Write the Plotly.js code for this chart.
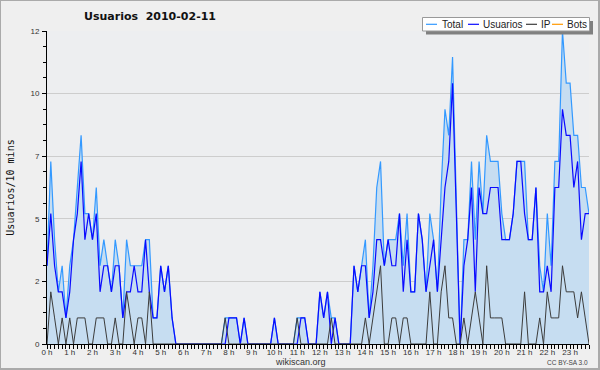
<!DOCTYPE html>
<html>
<head>
<meta charset="utf-8">
<script src="https://cdn.plot.ly/plotly-3.0.1.min.js"></script>
<style>
  html, body { margin: 0; padding: 0; background: #efefef; }
  #wrap { position: relative; width: 600px; height: 370px; }
  #chart { position: absolute; left: 0; top: 0; width: 600px; height: 370px; }
  #frame { position: absolute; left: 0; top: 0; width: 600px; height: 370px; box-sizing: border-box;
           border-left: 1px solid #aaa; border-top: 1px solid #aaa; border-right: 2px solid #aaa; border-bottom: 2px solid #aaa; pointer-events: none; }
</style>
</head>
<body>
<div id="wrap"><div id="chart"></div><div id="frame"></div></div>
<script>
// ---- data: one value per 10-minute slot, 00:00 .. 23:50 ----
const usuarios = [
  3,5,3,2,2,1,2,4,5,7,4,5,4,5,2,3,3,2,3,3,1,2,2,3,
  2,2,4,2,1,1,3,2,3,1,0,0,0,0,0,0,0,0,0,0,0,0,0,0,
  1,1,1,0,1,0,0,0,0,0,0,0,1,0,0,0,0,0,0,1,1,0,0,0,
  2,1,2,0,1,0,0,0,0,3,2,3,3,1,2,4,4,3,4,3,3,5,2,4,
  2,2,5,4,2,3,4,2,4,6,7,10,5,0,3,4,6,2,6,5,5,6,6,6,
  4,4,4,5,7,7,5,4,4,6,2,2,3,2,6,6,9,8,8,6,7,4,5,5
];
const ip = [
  0,2,1,0,1,0,1,0,1,1,1,0,0,1,1,1,0,0,1,0,0,2,1,0,
  1,1,0,2,0,0,0,0,0,0,0,0,0,0,0,0,0,0,0,0,0,0,0,1,
  0,0,0,0,0,0,0,0,0,0,0,0,0,0,0,0,0,0,1,0,0,0,0,0,
  0,0,0,1,0,0,0,0,0,0,0,0,1,0,1,2,3,0,0,1,1,0,1,1,
  0,0,0,0,0,2,0,0,2,3,1,1,0,0,1,0,1,2,1,0,3,1,1,1,
  1,0,0,0,0,0,2,0,0,0,1,0,2,1,1,1,3,2,2,2,1,2,1,0
];
const total = [
  3,7,4,2,3,1,3,4,6,8,5,5,4,6,3,4,3,2,4,3,1,4,3,3,
  3,3,4,4,1,1,3,2,3,1,0,0,0,0,0,0,0,0,0,0,0,0,0,1,
  1,1,1,0,1,0,0,0,0,0,0,0,1,0,0,0,0,0,1,1,1,0,0,0,
  2,1,2,1,1,0,0,0,0,3,2,3,4,1,3,6,7,3,4,4,4,5,3,5,
  2,2,5,4,2,5,4,2,6,9,8,11,5,0,4,4,7,4,7,5,8,7,7,7,
  5,4,4,5,7,7,7,4,4,6,3,2,5,3,7,7,12,10,10,8,8,6,6,5
];
const bots = [
  0,0,0,0,0,0,0,0,0,0,0,0,0,0,0,0,0,0,0,0,0,0,0,0,
  0,0,0,0,0,0,0,0,0,0,0,0,0,0,0,0,0,0,0,0,0,0,0,0,
  0,0,0,0,0,0,0,0,0,0,0,0,0,0,0,0,0,0,0,0,0,0,0,0,
  0,0,0,0,0,0,0,0,0,0,0,0,0,0,0,0,0,0,0,0,0,0,0,0,
  0,0,0,0,0,0,0,0,0,0,0,0,0,0,0,0,0,0,0,0,0,0,0,0,
  0,0,0,0,0,0,0,0,0,0,0,0,0,0,0,0,0,0,0,0,0,0,0,0
];
const hourLabels = ['0 h','1 h','2 h','3 h','4 h','5 h','6 h','7 h','8 h','9 h','10 h','11 h',
                    '12 h','13 h','14 h','15 h','16 h','17 h','18 h','19 h','20 h','21 h','22 h','23 h'];
const yTickVals = [0, 2.4, 4.8, 7.2, 9.6, 12];
const yTickText = ['0', '2', '5', '7', '10', '12'];
const seriesNames = ['Total', 'Usuarios', 'IP', 'Bots'];
const seriesColors = ['#3399ff', '#0a0aff', '#3c3c3c', '#ff9900'];

// ---- layout geometry ----
const W = 600, H = 370;
const M = {l: 47, r: 11, t: 31, b: 26};
const PW = W - M.l - M.r, PH = H - M.t - M.b;
const px = v => (v - M.l) / PW;          // pixel x -> paper
const py = v => (H - M.b - v) / PH;      // pixel y -> paper

const slots = usuarios.map((_, i) => i);
const hourTicks = hourLabels.map((_, h) => h * 6);

const traces = [
  {x: slots, y: bots, name: seriesNames[3], type: 'scatter', mode: 'lines',
   line: {color: seriesColors[3], width: 1}},
  {x: slots, y: total, name: seriesNames[0], type: 'scatter', mode: 'lines', fill: 'tozeroy',
   fillcolor: '#c6ddf1', line: {color: seriesColors[0], width: 1.2}},
  {x: slots, y: usuarios, name: seriesNames[1], type: 'scatter', mode: 'lines',
   line: {color: seriesColors[1], width: 1.2}},
  {x: slots, y: ip, name: seriesNames[2], type: 'scatter', mode: 'lines',
   line: {color: seriesColors[2], width: 1}}
];

// custom compact legend (box + shadow + samples + labels)
const legY = 24.3;
const legItems = [
  {name: seriesNames[0], color: seriesColors[0], l0: 426, l1: 437, tx: 441},
  {name: seriesNames[1], color: seriesColors[1], l0: 468, l1: 479, tx: 481.5},
  {name: seriesNames[2], color: seriesColors[2], l0: 526, l1: 537, tx: 539.5},
  {name: seriesNames[3], color: seriesColors[3], l0: 552, l1: 563, tx: 565.5}
];
const shapes = [
  {type: 'rect', xref: 'paper', yref: 'paper', x0: px(426), x1: px(593), y0: py(21), y1: py(34.5),
   fillcolor: '#808080', line: {width: 0}, layer: 'above'},
  {type: 'rect', xref: 'paper', yref: 'paper', x0: px(422.5), x1: px(589.5), y0: py(17.5), y1: py(31),
   fillcolor: '#ffffff', line: {color: '#999999', width: 1}, layer: 'above'}
];
const annotations = [];
legItems.forEach(it => {
  shapes.push({type: 'line', xref: 'paper', yref: 'paper', x0: px(it.l0), x1: px(it.l1), y0: py(legY), y1: py(legY),
               line: {color: it.color, width: 1.2}, layer: 'above'});
  annotations.push({xref: 'paper', yref: 'paper', x: px(it.tx), y: py(legY + 0.5), xanchor: 'left', yanchor: 'middle',
                    text: it.name, showarrow: false, borderpad: 0,
                    font: {family: 'Liberation Sans', size: 10, color: '#222'}});
});
annotations.push({xref: 'paper', yref: 'paper', x: px(300), y: py(362), xanchor: 'center', yanchor: 'middle',
                  text: 'wikiscan.org', showarrow: false, borderpad: 0,
                  font: {family: 'Liberation Sans', size: 9, color: '#333'}});
annotations.push({xref: 'paper', yref: 'paper', x: px(589), y: py(362), xanchor: 'right', yanchor: 'middle',
                  text: 'CC BY-SA 3.0', showarrow: false, borderpad: 0,
                  font: {family: 'Liberation Sans', size: 6.5, color: '#444'}});

const layout = {
  width: W, height: H,
  margin: M,
  paper_bgcolor: '#efefef',
  plot_bgcolor: '#edeef0',
  showlegend: false,
  title: {text: 'Usuarios\u00a0 2010-02-11', x: 150 / W, xref: 'container', xanchor: 'center',
          y: 1 - 16.5 / H, yref: 'container', yanchor: 'middle',
          font: {family: 'DejaVu Sans', size: 11, weight: 'bold', color: '#111'}},
  xaxis: {
    range: [0, slots.length - 1], fixedrange: true,
    showline: true, linecolor: '#000', linewidth: 1, mirror: false,
    showgrid: false, zeroline: false,
    tickmode: 'array', tickvals: hourTicks, ticktext: hourLabels,
    ticks: 'outside', ticklen: 4, tickcolor: '#000', tickwidth: 1,
    ticklabelstandoff: -4,
    tickfont: {family: 'Liberation Sans', size: 8, color: '#333'},
    minor: {dtick: 1, tick0: 0, ticks: 'outside', ticklen: 4, tickcolor: '#000', tickwidth: 1, showgrid: false}
  },
  yaxis: {
    range: [0, 12], fixedrange: true,
    showline: true, linecolor: '#000', linewidth: 1,
    showgrid: true, gridcolor: '#cdcdcd', gridwidth: 1, zeroline: false,
    tickmode: 'array', tickvals: yTickVals, ticktext: yTickText,
    ticks: 'outside', ticklen: 4, tickcolor: '#000', tickwidth: 1,
    ticklabelstandoff: 1,
    tickfont: {family: 'Liberation Sans', size: 8, color: '#333'},
    minor: {dtick: 0.6, tick0: 0, ticks: 'outside', ticklen: 3, tickcolor: '#000', tickwidth: 1, showgrid: false},
    title: {text: 'Usuarios/10 mins', standoff: 13,
            font: {family: 'DejaVu Sans Mono', size: 10, color: '#111'}}
  },
  shapes: shapes,
  annotations: annotations
};

Plotly.newPlot('chart', traces, layout, {staticPlot: true, displayModeBar: false});
</script>
</body>
</html>
